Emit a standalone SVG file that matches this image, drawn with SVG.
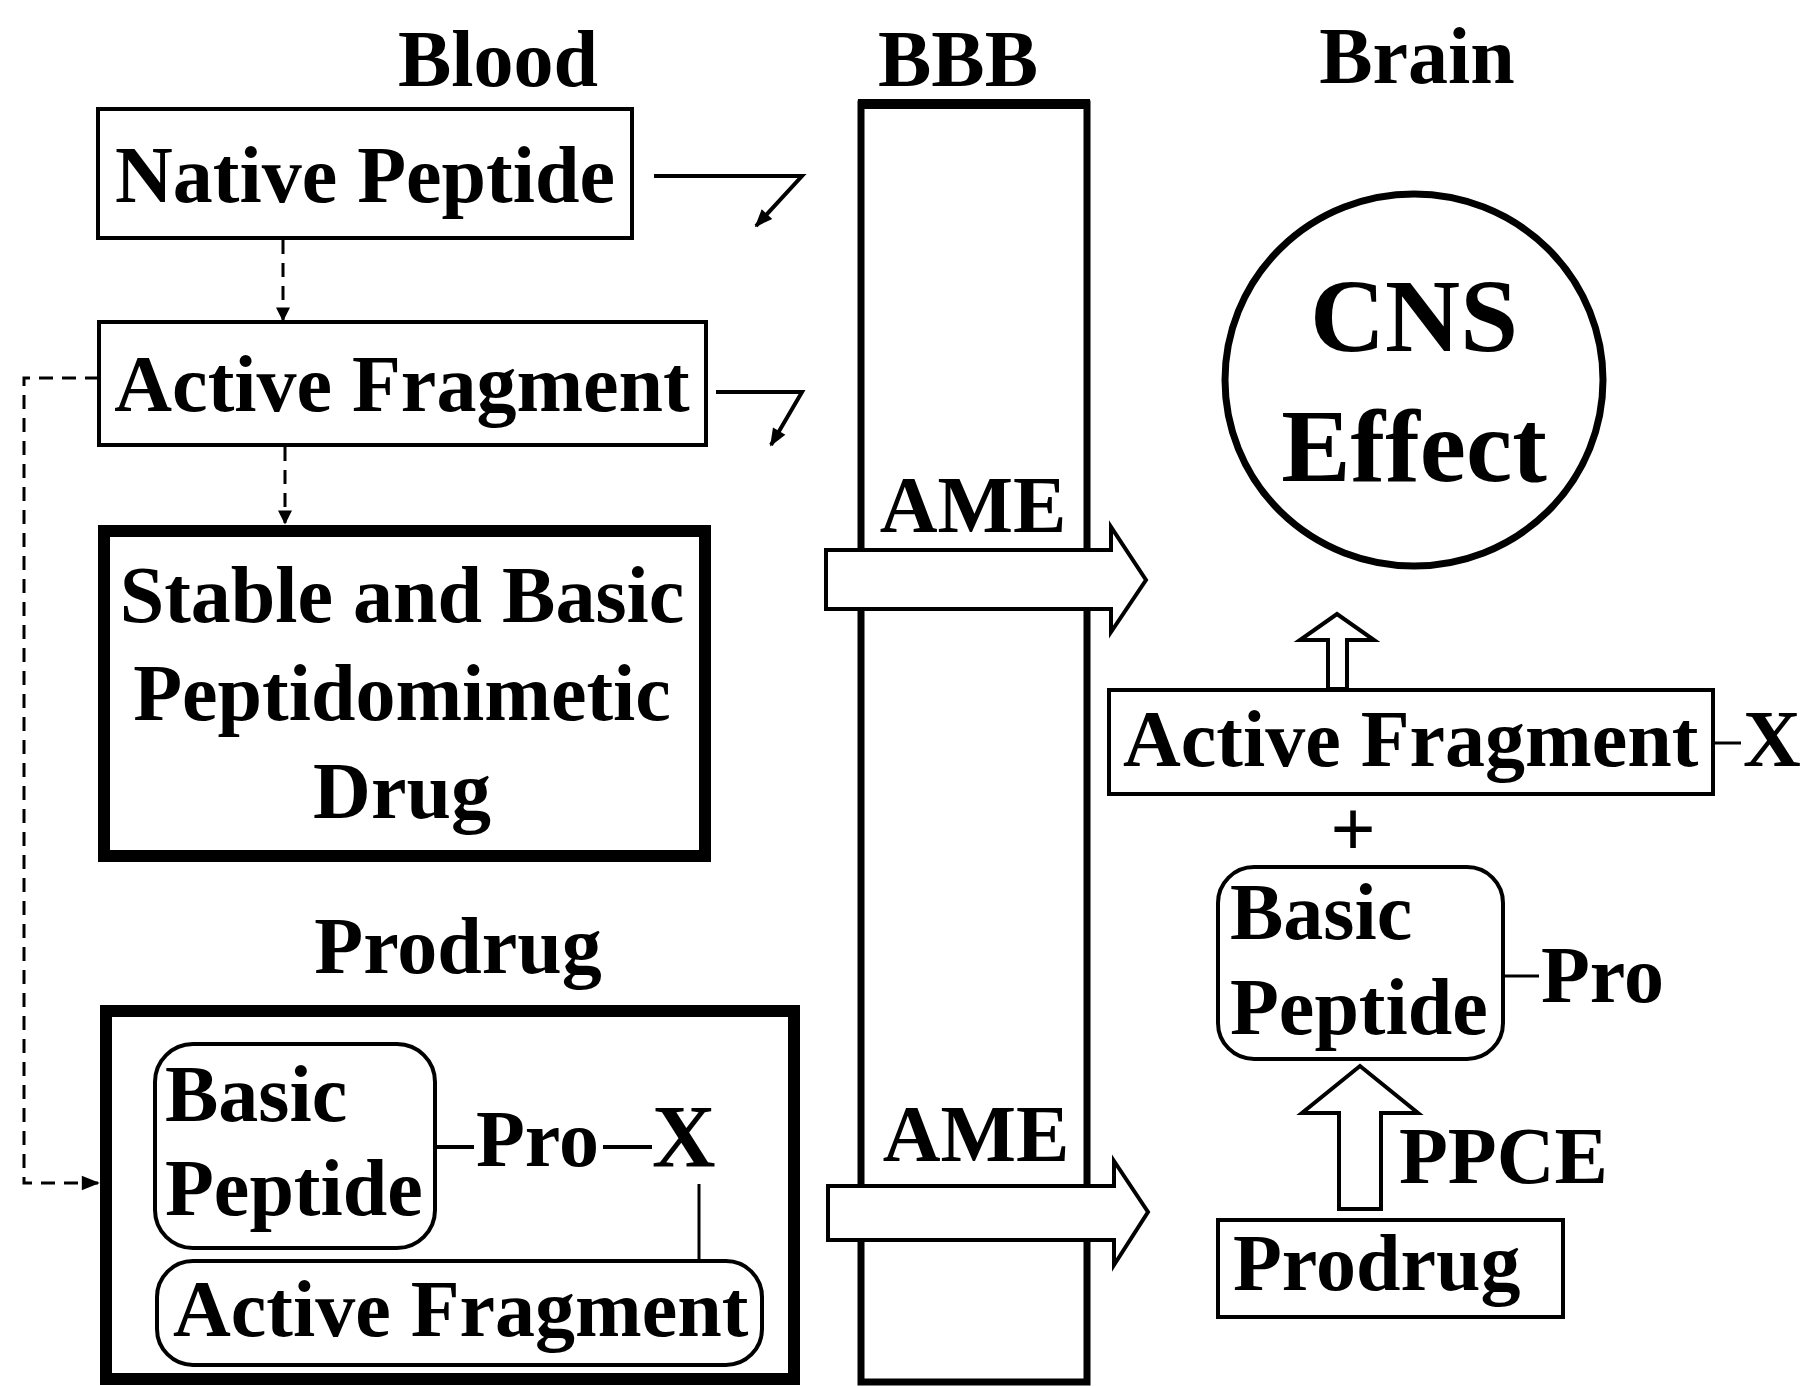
<svg xmlns="http://www.w3.org/2000/svg" width="1806" height="1386" viewBox="0 0 1806 1386">
<style>
text{font-family:"Liberation Serif","Times New Roman",serif;font-weight:bold;fill:#000}
.t80{font-size:80px}
.box{fill:#fff;stroke:#000;stroke-width:4}
.thick{fill:#fff;stroke:#000;stroke-width:12}
.ln{fill:none;stroke:#000;stroke-width:4}
.dash{fill:none;stroke:#000;stroke-width:3;stroke-dasharray:14 9}
.hollow{fill:#fff;stroke:#000;stroke-width:4;stroke-linejoin:miter}
</style>
<defs>
<marker id="ahb" viewBox="0 0 10 10" refX="9" refY="5" markerWidth="22" markerHeight="14" markerUnits="userSpaceOnUse" orient="auto">
<path d="M0,0 L10,5 L0,10 z" fill="#000"/>
</marker>
<marker id="ahd" viewBox="0 0 10 10" refX="9" refY="5" markerWidth="28" markerHeight="18" markerUnits="userSpaceOnUse" orient="auto">
<path d="M0,1 L10,5 L0,9 z" fill="#000"/>
</marker>
</defs>

<g id="labels">
<text class="t80" x="498" y="86" text-anchor="middle">Blood</text>
<text class="t80" x="958" y="86" text-anchor="middle">BBB</text>
<text class="t80" x="1417" y="83" text-anchor="middle">Brain</text>
<text class="t80" x="458" y="973" text-anchor="middle">Prodrug</text>
</g>

<g id="bbb">
<rect x="861" y="104" width="226" height="1278" fill="#fff" stroke="#000" stroke-width="7"/>
<line x1="858" y1="104" x2="1090" y2="104" stroke="#000" stroke-width="10"/>
<text class="t80" x="973" y="532" text-anchor="middle">AME</text>
<text class="t80" x="976" y="1161" text-anchor="middle">AME</text>
</g>

<g id="native-peptide">
<rect class="box" x="98" y="109" width="534" height="129"/>
<text class="t80" x="365" y="202" text-anchor="middle">Native Peptide</text>
</g>

<g id="active-fragment-blood">
<rect class="box" x="99" y="322" width="607" height="123"/>
<text class="t80" x="402" y="411" text-anchor="middle">Active Fragment</text>
</g>

<g id="stable-drug">
<rect class="thick" x="104" y="531" width="601" height="325"/>
<text class="t80" x="402" y="622" text-anchor="middle">Stable and Basic</text>
<text class="t80" x="402" y="720" text-anchor="middle">Peptidomimetic</text>
<text class="t80" x="402" y="818" text-anchor="middle">Drug</text>
</g>

<g id="prodrug-blood">
<rect class="thick" x="106" y="1011" width="688" height="368"/>
<rect class="box" x="155" y="1044" width="280" height="204" rx="38"/>
<text class="t80" x="165" y="1121">Basic</text>
<text class="t80" x="165" y="1215">Peptide</text>
<line class="ln" x1="435" y1="1147" x2="474" y2="1147"/>
<text class="t80" x="476" y="1166">Pro</text>
<line class="ln" x1="603" y1="1147" x2="652" y2="1147"/>
<text x="652" y="1166" font-size="88">X</text>
<line x1="699" y1="1184" x2="699" y2="1261" stroke="#000" stroke-width="3"/>
<rect class="box" x="157" y="1261" width="605" height="104" rx="36"/>
<text class="t80" x="173" y="1336">Active Fragment</text>
</g>

<g id="cns-effect">
<ellipse cx="1414" cy="380" rx="189" ry="186" fill="#fff" stroke="#000" stroke-width="7"/>
<text x="1414" y="351" text-anchor="middle" font-size="104">CNS</text>
<text x="1414" y="481" text-anchor="middle" font-size="104">Effect</text>
</g>

<g id="active-fragment-brain">
<rect class="box" x="1109" y="690" width="604" height="104"/>
<text class="t80" x="1123" y="766">Active Fragment</text>
<line x1="1715" y1="743" x2="1741" y2="743" stroke="#000" stroke-width="3"/>
<text class="t80" x="1743" y="766">X</text>
</g>

<g id="plus">
<text x="1353" y="856" text-anchor="middle" font-size="80">+</text>
</g>

<g id="basic-peptide-brain">
<rect class="box" x="1218" y="867" width="285" height="192" rx="36"/>
<text class="t80" x="1230" y="939">Basic</text>
<text class="t80" x="1230" y="1034">Peptide</text>
<line x1="1503" y1="976" x2="1539" y2="976" stroke="#000" stroke-width="3"/>
<text class="t80" x="1541" y="1002">Pro</text>
</g>

<g id="prodrug-brain">
<rect class="box" x="1218" y="1220" width="345" height="97"/>
<text class="t80" x="1233" y="1290">Prodrug</text>
</g>

<g id="connectors">
<line class="dash" x1="283" y1="240" x2="283" y2="320" marker-end="url(#ahb)"/>
<line class="dash" x1="285" y1="447" x2="285" y2="523" marker-end="url(#ahb)"/>
<path class="dash" d="M99,378 H24 V1183 H98" marker-end="url(#ahd)"/>
<path class="ln" d="M654,176 H802 L756,226" marker-end="url(#ahd)"/>
<path class="ln" d="M716,392 H802 L771,445" marker-end="url(#ahd)"/>
<path class="hollow" d="M826,550 H1111 V527 L1146,580 L1111,632 V609 H826 Z"/>
<path class="hollow" d="M828,1186 H1114 V1161 L1148,1212 L1114,1265 V1240 H828 Z"/>
<path class="hollow" d="M1328,689 V640 H1300 L1337,614 L1374,640 H1347 V689 Z" stroke-width="3"/>
<path class="hollow" d="M1339,1209 V1113 H1302 L1360,1066 L1418,1113 H1381 V1209 Z" stroke-width="9"/>
</g>
<text class="t80" x="1399" y="1183">PPCE</text>
</svg>
